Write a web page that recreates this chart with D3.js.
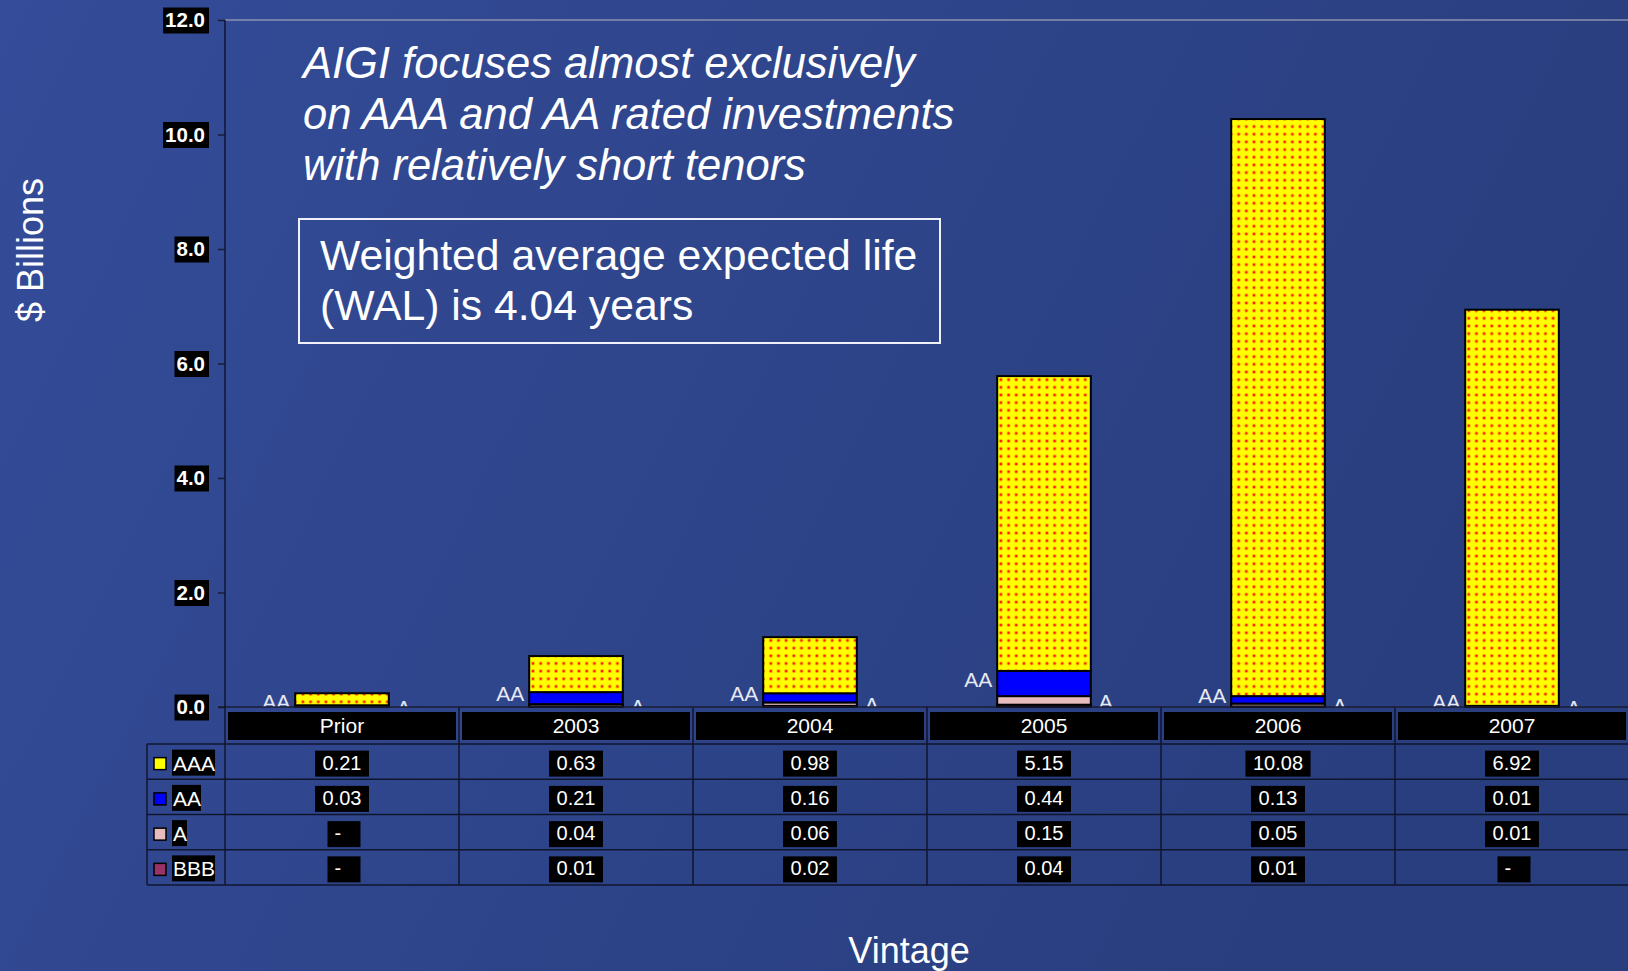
<!DOCTYPE html>
<html>
<head>
<meta charset="utf-8">
<script src="https://d3js.org/d3.v7.min.js"></script>
<style>
  html, body { margin: 0; padding: 0; background: #2f4690; overflow: hidden; }
  text { font-family: 'Liberation Sans', Arial, sans-serif; }
</style>
</head>
<body>
<div id="chart-area"></div>
<script>
// Data
const vintages = ['Prior', '2003', '2004', '2005', '2006', '2007'];
const ratings = ['AAA', 'AA', 'A', 'BBB'];
const aaaValues = [0.21, 0.63, 0.98, 5.15, 10.08, 6.92];
const aaValues = [0.03, 0.21, 0.16, 0.44, 0.13, 0.01];
const aValues = [0, 0.04, 0.06, 0.15, 0.05, 0.01];
const bbbValues = [0, 0.01, 0.02, 0.04, 0.01, 0];
const yTicks = [0, 2, 4, 6, 8, 10, 12];
const titleLines = [
  'AIGI focuses almost exclusively',
  'on AAA and AA rated investments',
  'with relatively short tenors'
];
const noteLines = ['Weighted average expected life', '(WAL) is 4.04 years'];

const colours = { AAA: 'url(#dots)', AA: '#0000ff', A: '#e8bcbc', BBB: '#993366' };
const legendColours = { AAA: '#ffff00', AA: '#0000ff', A: '#e8bcbc', BBB: '#993366' };

const seriesValues = { AAA: aaaValues, AA: aaValues, A: aValues, BBB: bbbValues };
const table = vintages.map((v, i) => ({
  vintage: v, AAA: aaaValues[i], AA: aaValues[i], A: aValues[i], BBB: bbbValues[i]
}));

const W = 1628, H = 971;
const plotLeft = 225, plotTop = 20, plotBottom = 707, tableTop = 744, tableBottom = 885;

const svg = d3.select('#chart-area').append('svg')
  .attr('width', W)
  .attr('height', H);

const defs = svg.append('defs');

const grad = defs.append('linearGradient')
  .attr('id', 'bg')
  .attr('x1', 0).attr('y1', 0).attr('x2', 1).attr('y2', 0.3);
grad.append('stop').attr('offset', 0).attr('stop-color', '#344c99');
grad.append('stop').attr('offset', 1).attr('stop-color', '#293e7e');

// yellow fill with red dots
const pat = defs.append('pattern')
  .attr('id', 'dots')
  .attr('patternUnits', 'userSpaceOnUse')
  .attr('width', 7.67)
  .attr('height', 7.67);
pat.append('rect').attr('width', 7.67).attr('height', 7.67).attr('fill', '#ffff00');
pat.append('circle').attr('cx', 3.8).attr('cy', 3.8).attr('r', 2).attr('fill', '#ffb000');
pat.append('circle').attr('cx', 3.8).attr('cy', 3.8).attr('r', 1.2).attr('fill', '#ff1a00');

defs.append('clipPath').attr('id', 'plot-clip')
  .append('rect')
  .attr('x', 0).attr('y', 0)
  .attr('width', W).attr('height', plotBottom);

svg.append('rect')
  .attr('width', W)
  .attr('height', H)
  .attr('fill', 'url(#bg)');

// scales
const x = d3.scaleBand()
  .domain(vintages)
  .range([plotLeft, plotLeft + 234 * vintages.length])
  .padding(0);

const y = d3.scaleLinear()
  .domain([0, 12])
  .range([plotBottom, plotTop]);

const rowY = d3.scaleBand()
  .domain(ratings)
  .range([tableTop, tableBottom]);

const barWidth = x.bandwidth() * 0.4;

// top border of the plot
svg.append('line')
  .attr('x1', plotLeft).attr('x2', W)
  .attr('y1', plotTop).attr('y2', plotTop)
  .attr('stroke', '#8a92ae')
  .attr('stroke-width', 1.5);

// stacked bars
const stack = d3.stack().keys(['BBB', 'A', 'AA', 'AAA']);
const layers = stack(table);

const barG = svg.append('g');
layers.forEach(layer => {
  barG.selectAll(null)
    .data(layer)
    .enter()
    .append('rect')
    .attr('x', d => x(d.data.vintage) + (x.bandwidth() - barWidth) / 2)
    .attr('y', d => y(d[1]))
    .attr('width', barWidth)
    .attr('height', d => y(d[0]) - y(d[1]))
    .attr('fill', colours[layer.key])
    .attr('stroke', '#000')
    .attr('stroke-width', 2)
    .style('display', d => (d[1] - d[0]) > 0 ? null : 'none');
});

// series name labels beside the bars, clipped at the zero line
const labelG = svg.append('g').attr('clip-path', 'url(#plot-clip)');
const aaLayer = layers.find(l => l.key === 'AA');
const aLayer = layers.find(l => l.key === 'A');

labelG.selectAll('.aa-label')
  .data(aaLayer)
  .enter()
  .append('text')
  .attr('class', 'aa-label')
  .attr('x', d => x(d.data.vintage) + (x.bandwidth() - barWidth) / 2 - 5)
  .attr('y', d => (y(d[0]) + y(d[1])) / 2 - 4)
  .attr('dy', '0.35em')
  .attr('text-anchor', 'end')
  .attr('font-size', '21px')
  .attr('fill', '#e6e8f2')
  .text('AA');

labelG.selectAll('.a-label')
  .data(aLayer)
  .enter()
  .append('text')
  .attr('class', 'a-label')
  .attr('x', d => x(d.data.vintage) + (x.bandwidth() + barWidth) / 2 + 8)
  .attr('y', d => (y(d[0]) + y(d[1])) / 2 + 1)
  .attr('dy', '0.35em')
  .attr('font-size', '21px')
  .attr('fill', '#e6e8f2')
  .text('A');

// y axis
const yAxisCall = d3.axisLeft(y)
  .tickValues(yTicks)
  .tickSize(7)
  .tickPadding(13)
  .tickFormat(d3.format('.1f'));

const yAxisGroup = svg.append('g')
  .attr('class', 'y-axis')
  .attr('transform', `translate(${plotLeft}, 0)`)
  .call(yAxisCall);

yAxisGroup.select('.domain').remove();
yAxisGroup.selectAll('line').attr('stroke', '#1a1d33').attr('stroke-width', 1.5);
yAxisGroup.selectAll('text')
  .attr('font-size', '20.5px')
  .attr('font-weight', 'bold')
  .attr('fill', '#fff')
  .attr('font-family', "'Liberation Sans', Arial, sans-serif");

yAxisGroup.selectAll('.tick').each(function() {
  const tick = d3.select(this);
  const len = tick.select('text').node().getComputedTextLength();
  tick.insert('rect', 'text')
    .attr('x', -20 - len - 2)
    .attr('y', -13)
    .attr('width', len + 2 + 4)
    .attr('height', 26)
    .attr('fill', '#000');
});

// zero line
svg.append('line')
  .attr('x1', plotLeft - 7).attr('x2', W)
  .attr('y1', plotBottom).attr('y2', plotBottom)
  .attr('stroke', '#1a1d33')
  .attr('stroke-width', 1.5);

// data table grid
const gridColour = '#10152e';
svg.append('line')
  .attr('x1', plotLeft).attr('x2', plotLeft)
  .attr('y1', plotTop).attr('y2', tableBottom)
  .attr('stroke', gridColour).attr('stroke-width', 1.5);

vintages.slice(1).forEach(v => {
  svg.append('line')
    .attr('x1', x(v)).attr('x2', x(v))
    .attr('y1', plotBottom).attr('y2', tableBottom)
    .attr('stroke', gridColour).attr('stroke-width', 1.5);
});

ratings.concat(['end']).forEach((r, i) => {
  const yy = i < ratings.length ? rowY(r) : tableBottom;
  svg.append('line')
    .attr('x1', 147).attr('x2', W)
    .attr('y1', yy).attr('y2', yy)
    .attr('stroke', gridColour).attr('stroke-width', 1.5);
});

svg.append('line')
  .attr('x1', 147).attr('x2', 147)
  .attr('y1', tableTop).attr('y2', tableBottom)
  .attr('stroke', gridColour).attr('stroke-width', 1.5);

// category header
const header = svg.append('g');
header.selectAll('rect')
  .data(vintages)
  .enter()
  .append('rect')
  .attr('x', d => x(d) + 3)
  .attr('y', 712)
  .attr('width', x.bandwidth() - 6)
  .attr('height', 28)
  .attr('fill', '#000');

header.selectAll('text')
  .data(vintages)
  .enter()
  .append('text')
  .attr('x', d => x(d) + x.bandwidth() / 2)
  .attr('y', 733)
  .attr('text-anchor', 'middle')
  .attr('font-size', '21px')
  .attr('fill', '#fff')
  .text(d => d);

// table rows
const fmt = d3.format('.2f');
ratings.forEach(r => {
  const cy = rowY(r) + rowY.bandwidth() / 2 + 1;
  const row = svg.append('g');

  row.append('rect')
    .attr('x', 154)
    .attr('y', cy - 5)
    .attr('width', 12)
    .attr('height', 12)
    .attr('fill', legendColours[r])
    .attr('stroke', '#000')
    .attr('stroke-width', 1.5);

  const lbl = row.append('text')
    .attr('x', 173)
    .attr('y', cy + 8)
    .attr('font-size', '21px')
    .attr('fill', '#fff')
    .text(r);
  const lw = lbl.node().getComputedTextLength();
  row.insert('rect', 'text')
    .attr('x', 172)
    .attr('y', cy - 13)
    .attr('width', lw + 1)
    .attr('height', 26)
    .attr('fill', '#000');

  seriesValues[r].forEach((v, i) => {
    const cx = x(vintages[i]) + x.bandwidth() / 2;
    const cell = row.append('g');
    const t = cell.append('text')
      .attr('y', cy + 7)
      .attr('font-size', '20px')
      .attr('fill', '#fff')
      .text(v === 0 ? '-' : fmt(v));
    const tw = t.node().getComputedTextLength();
    let bw;
    if (v === 0) {
      bw = 33;
      t.attr('x', cx + 2 - bw / 2 + 7);
    } else {
      bw = tw + 15;
      t.attr('x', cx - tw / 2);
    }
    cell.insert('rect', 'text')
      .attr('x', cx - bw / 2 + (v === 0 ? 2 : 0))
      .attr('y', cy - 12)
      .attr('width', bw)
      .attr('height', 26)
      .attr('fill', '#000');
  });
});

// title
svg.append('text')
  .attr('x', 303)
  .attr('y', 78)
  .attr('font-size', '43.5px')
  .attr('font-style', 'italic')
  .attr('fill', '#fff')
  .selectAll('tspan')
  .data(titleLines)
  .enter()
  .append('tspan')
  .attr('x', 303)
  .attr('dy', (d, i) => i === 0 ? 0 : 51)
  .text(d => d);

// note box
svg.append('rect')
  .attr('x', 299)
  .attr('y', 219)
  .attr('width', 641)
  .attr('height', 124)
  .attr('fill', 'none')
  .attr('stroke', '#f0f0f8')
  .attr('stroke-width', 2);

svg.append('text')
  .attr('x', 320)
  .attr('y', 270)
  .attr('font-size', '42.7px')
  .attr('fill', '#fff')
  .selectAll('tspan')
  .data(noteLines)
  .enter()
  .append('tspan')
  .attr('x', 320)
  .attr('dy', (d, i) => i === 0 ? 0 : 50)
  .text(d => d);

// axis titles
svg.append('text')
  .attr('transform', 'translate(43, 250) rotate(-90)')
  .attr('text-anchor', 'middle')
  .attr('font-size', '36px')
  .attr('fill', '#fff')
  .text('$ Billions');

svg.append('text')
  .attr('x', 909)
  .attr('y', 963)
  .attr('text-anchor', 'middle')
  .attr('font-size', '36px')
  .attr('fill', '#fff')
  .text('Vintage');
</script>
</body>
</html>
